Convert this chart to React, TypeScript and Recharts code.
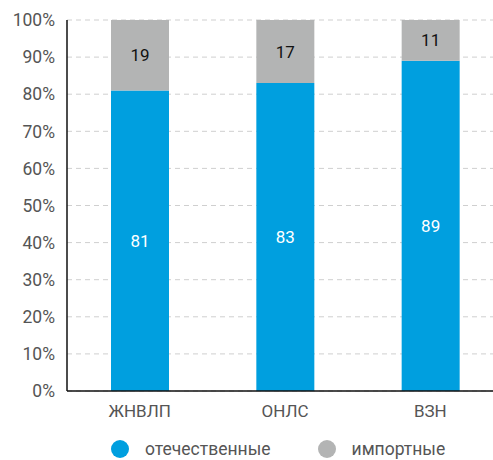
import React from "react";
import { BarChart, Bar, XAxis, YAxis, CartesianGrid, LabelList } from "recharts";

// Доля препаратов по спискам, %
const categories = ["ЖНВЛП", "ОНЛС", "ВЗН"];
const domestic = [81, 83, 89];
const imported = [19, 17, 11];
const yTicks = [0, 10, 20, 30, 40, 50, 60, 70, 80, 90, 100];

const BLUE = "#009FDF";
const GREY = "#B3B4B4";
const FONT = "Roboto, sans-serif";

const data = categories.map((name, i) => ({ name, domestic: domestic[i], imported: imported[i] }));

const legendItems = [
  { label: "отечественные", color: BLUE },
  { label: "импортные", color: GREY },
];

export default function App() {
  return (
    <div style={{ position: "absolute", left: 0, top: 0, width: 493, height: 460, overflow: "hidden", background: "#fff", fontFamily: FONT }}>
      <BarChart
        width={503}
        height={460}
        data={data}
        margin={{ top: 20, right: 0, left: 0, bottom: 39 }}
        barCategoryGap={0}
      >
        <CartesianGrid vertical={false} stroke="#cfcfcf" strokeDasharray="5 4" />
        <XAxis
          dataKey="name"
          height={30}
          axisLine={{ stroke: "#111", strokeWidth: 1.5 }}
          tickLine={false}
          tickMargin={8}
          tick={{ fill: "#555", fontSize: 17, fontFamily: FONT }}
        />
        <YAxis
          width={67}
          domain={[0, 100]}
          ticks={yTicks}
          interval={0}
          tickFormatter={(v: number) => `${v}%`}
          axisLine={{ stroke: "#111", strokeWidth: 1.5 }}
          tickLine={false}
          tickMargin={6}
          tick={{ fill: "#555", fontSize: 17.5, fontFamily: FONT }}
        />
        <Bar dataKey="domestic" stackId="a" fill={BLUE} barSize={58} isAnimationActive={false}>
          <LabelList dataKey="domestic" position="center" fill="#fff" fontSize={17} fontFamily={FONT} />
        </Bar>
        <Bar dataKey="imported" stackId="a" fill={GREY} barSize={58} isAnimationActive={false}>
          <LabelList dataKey="imported" position="center" fill="#111" fontSize={17} fontFamily={FONT} />
        </Bar>
      </BarChart>
      <div style={{ position: "absolute", left: 111, top: 440, display: "flex", alignItems: "center" }}>
        {legendItems.map((it, i) => (
          <div key={it.label} style={{ display: "flex", alignItems: "center", marginRight: i === 0 ? 47 : 0 }}>
            <span style={{ width: 18, height: 18, borderRadius: "50%", background: it.color, display: "inline-block", marginRight: 16 }} />
            <span style={{ fontSize: 17.5, color: "#555", lineHeight: "16px" }}>{it.label}</span>
          </div>
        ))}
      </div>
    </div>
  );
}
